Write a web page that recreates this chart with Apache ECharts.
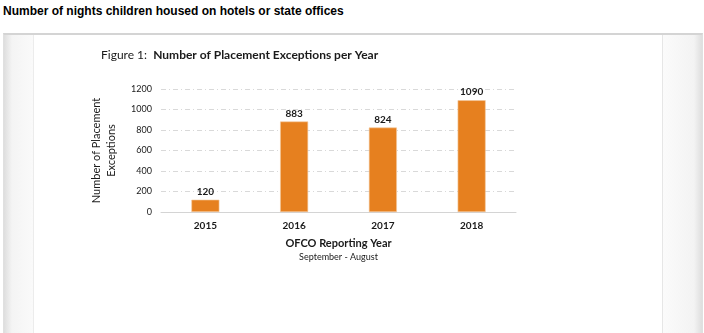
<!DOCTYPE html>
<html>
<head>
<meta charset="utf-8">
<script src="https://cdn.jsdelivr.net/npm/echarts@6/dist/echarts.min.js"></script>
<style>
  html, body { margin: 0; padding: 0; background: #fff; width: 704px; height: 333px; overflow: hidden; }
  #head { position: absolute; left: 3px; top: 4px; font: bold 12px "Liberation Sans", Arial, sans-serif; color: #000; }
  #frame { position: absolute; left: 3px; top: 33px; width: 698px; height: 298px;
           border-top: 2px solid #d4d4d4; border-bottom: 2px solid #cfcfcf; border-left: 1px solid #e0e0e0; border-right: 1px solid #e0e0e0;
           background: linear-gradient(to right, #dedede 0px, #f4f4f4 8px, #fafafa 29px, #fff 29px, #fff 658px, #fbfbfb 658px, #f3f3f3 690px, #dedede 698px); }
  #inner { position: absolute; left: 29px; top: 0; width: 628px; height: 298px; background: #fff;
           border-left: 1px solid #ececec; border-right: 1px solid #e6e6e6; }
  #chart { position: absolute; left: 0; top: 0; width: 704px; height: 333px; }
</style>
</head>
<body>
<div id="head">Number of nights children housed on hotels or state offices</div>
<div id="frame"><div id="inner"></div></div>
<div id="chart"></div>
<script>
// Placement exceptions per OFCO reporting year (September - August)
const years = ['2015', '2016', '2017', '2018'];
const exceptions = [120, 883, 824, 1090];
const yTicks = { min: 0, max: 1200, interval: 200 };

const FONT = 'Lato, "Open Sans", sans-serif';
const BOLD = 'bolder';

const chart = echarts.init(document.getElementById('chart'), null, { renderer: 'canvas' });
chart.setOption({
  backgroundColor: 'transparent',
  animation: false,
  title: {
    text: '{r|Figure 1:  }{b|Number of Placement Exceptions per Year}',
    left: 96,
    top: 44,
    textStyle: {
      fontWeight: 'normal',
      rich: {
        r: { fontFamily: FONT, fontSize: 12, fontWeight: 'normal', color: '#1a1a1a' },
        b: { fontFamily: FONT, fontSize: 12, fontWeight: BOLD, color: '#1a1a1a' }
      }
    }
  },
  grid: { left: 161, right: 188, top: 89, bottom: 121, containLabel: false },
  xAxis: {
    type: 'category',
    data: years,
    axisLine: { lineStyle: { color: '#d4d4d4', width: 1 } },
    axisTick: { show: false },
    axisLabel: { fontFamily: FONT, fontSize: 10, fontWeight: BOLD, color: '#1a1a1a', margin: 9 },
    name: '{a|OFCO Reporting Year}\n{b|September - August}',
    nameLocation: 'middle',
    nameGap: 24,
    nameTextStyle: {
      verticalAlign: 'top',
      rich: {
        a: { fontFamily: FONT, fontSize: 11, fontWeight: BOLD, color: '#1a1a1a', lineHeight: 15, align: 'center' },
        b: { fontFamily: FONT, fontSize: 9, color: '#1a1a1a', lineHeight: 13, align: 'center' }
      }
    }
  },
  yAxis: {
    type: 'value',
    min: yTicks.min,
    max: yTicks.max,
    interval: yTicks.interval,
    axisLine: { show: false },
    axisTick: { show: false },
    axisLabel: { fontFamily: FONT, fontSize: 9, color: '#1a1a1a', margin: 9, formatter: v => String(v) },
    splitLine: { lineStyle: { color: '#d9d9d9', width: 1, type: [5, 3, 1, 3] } },
    name: 'Number of Placement\nExceptions',
    nameLocation: 'middle',
    nameRotate: 90,
    nameGap: 42,
    nameTextStyle: { fontFamily: FONT, fontSize: 11, color: '#1a1a1a', lineHeight: 15, align: 'center' }
  },
  series: [{
    type: 'bar',
    data: exceptions,
    barWidth: 28,
    itemStyle: { color: '#E6801F', borderColor: '#F3C9A0', borderWidth: 0.6 },
    label: {
      show: true,
      position: 'top',
      distance: 3,
      fontFamily: FONT,
      fontSize: 10,
      fontWeight: BOLD,
      color: '#1a1a1a'
    }
  }]
});
</script>
</body>
</html>
